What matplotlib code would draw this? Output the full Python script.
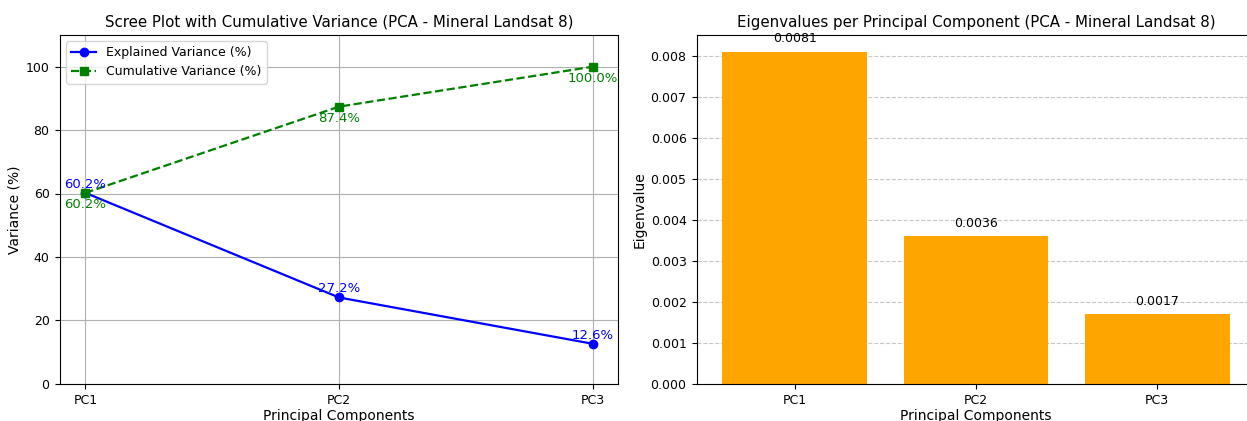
import matplotlib.pyplot as plt

components = ["PC1", "PC2", "PC3"]
explained = [60.2, 27.2, 12.6]
cumulative = [60.2, 87.4, 100.0]
eigenvalues = [0.0081, 0.0036, 0.0017]

W, H = 1247, 421
fig = plt.figure(figsize=(W / 100, H / 100), dpi=100)

# axes placed by pixel box: left, bottom, width, height
bottom = (H - 383.7) / H
height = (383.7 - 35) / H
ax1 = fig.add_axes([60 / W, bottom, 558 / W, height])
ax2 = fig.add_axes([697 / W, bottom, 558 / W, height])

# scree plot
x = range(len(components))
ax1.plot(x, explained, "o-", color="blue", lw=1.6, label="Explained Variance (%)")
ax1.plot(x, cumulative, "s--", color="green", lw=1.6, label="Cumulative Variance (%)")
for i, v in enumerate(explained):
    ax1.annotate(f"{v:.1f}%", (i, v), xytext=(0, 1.5), textcoords="offset points",
                 ha="center", va="bottom", color="blue", fontsize=9.5)
for i, v in enumerate(cumulative):
    ax1.annotate(f"{v:.1f}%", (i, v), xytext=(0, -3.5), textcoords="offset points",
                 ha="center", va="top", color="green", fontsize=9.5)
ax1.set_xticks(list(x))
ax1.set_xticklabels(components)
ax1.set_ylim(0, 110)
ax1.set_xlabel("Principal Components", fontsize=10, labelpad=1)
ax1.set_ylabel("Variance (%)", fontsize=10, labelpad=3)
ax1.set_title("Scree Plot with Cumulative Variance (PCA - Mineral Landsat 8)", fontsize=10.8)
ax1.tick_params(labelsize=9, pad=4)
ax1.grid(True)
ax1.legend(loc="upper left", fontsize=9)

# eigenvalues
bars = ax2.bar(components, eigenvalues, color="orange")
for b, v in zip(bars, eigenvalues):
    ax2.text(b.get_x() + b.get_width() / 2, v + 0.00015, f"{v:.4f}",
             ha="center", va="bottom", fontsize=9)
ax2.set_xlabel("Principal Components", fontsize=10, labelpad=1)
ax2.set_ylabel("Eigenvalue", fontsize=10, labelpad=3)
ax2.set_title("Eigenvalues per Principal Component (PCA - Mineral Landsat 8)", fontsize=10.8)
ax2.tick_params(labelsize=9, pad=4)
ax2.grid(axis="y", linestyle="--", alpha=0.7)
ax2.set_axisbelow(True)

fig.savefig("out.png", dpi=100)
